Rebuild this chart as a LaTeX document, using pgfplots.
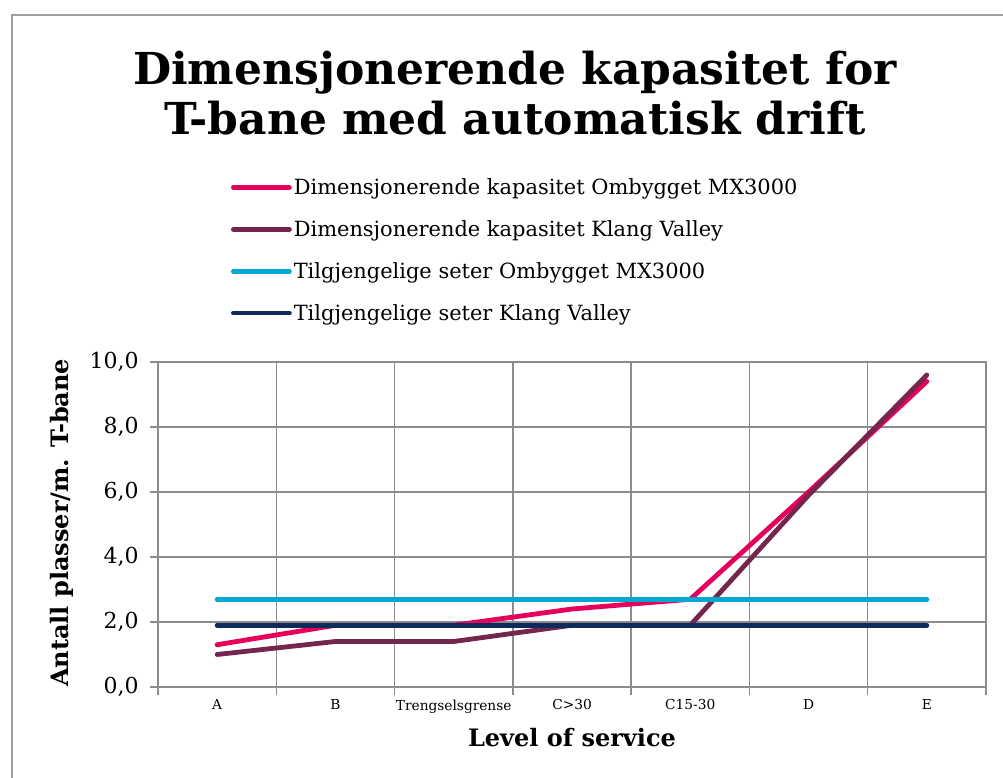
\documentclass[border=0pt]{standalone}
\usepackage{pgfplots}
\pgfplotsset{compat=1.18}
\usepackage{fontspec}
\setmainfont{DejaVu Serif}

\definecolor{cPink}{HTML}{E6005C}
\definecolor{cPlum}{HTML}{74264F}
\definecolor{cCyan}{HTML}{00A8D2}
\definecolor{cNavy}{HTML}{0C2A5C}
\definecolor{gridgray}{HTML}{8C8C8C}

\begin{document}
\begin{tikzpicture}
% 1 unit = 1 px of the 1003x778 reference, origin at its bottom-left corner;
% the axis box's lower-left corner sits at px (158,91)
\begin{scope}[x=0.75pt, y=0.75pt, shift={(-118.5pt,-68.25pt)}]
\useasboundingbox (0,0) rectangle (1003,778);
\draw[gray!75, line width=1.5pt] (12,0) -- (12,763) -- (1003,763);
\node[anchor=base, font=\fontsize{33}{38}\selectfont\bfseries] at (515,693) {Dimensjonerende kapasitet for};
\node[anchor=base, font=\fontsize{33}{38}\selectfont\bfseries] at (515,643) {T-bane med automatisk drift};
\end{scope}

\begin{axis}[
  scale only axis, width=621pt, height=243.75pt,
  xmin=-0.5, xmax=6.5, ymin=0, ymax=10,
  xtick={-0.5,0.5,...,6.5},
  xticklabels={A,B,Trengselsgrense,C>30,C15-30,D,E},
  x tick label as interval,
  ytick={0,2,...,10},
  grid=major, grid style={gridgray, line width=1pt},
  axis line style={gridgray, line width=1pt},
  tick style={gridgray, line width=1pt},
  tick align=outside, major tick length=6pt,
  xtick pos=bottom, ytick pos=left,
  y tick label style={font=\fontsize{16.5}{19}\selectfont, xshift=-5pt,
    /pgf/number format/fixed, /pgf/number format/fixed zerofill,
    /pgf/number format/precision=1, /pgf/number format/use comma,
    /pgf/number format/assume math mode=true},
  x tick label style={font=\fontsize{10.3}{12}\selectfont},
  xlabel={Level of service},
  ylabel={Antall plasser/m. T-bane},
  label style={font=\fontsize{18}{21}\selectfont\bfseries},
  xlabel style={at={(0.5,0)}, anchor=base, yshift=-44.25pt},
  ylabel style={at={(-0.116,0.505)}, anchor=center},
  legend style={at={(0.083,1.58)}, anchor=north west, draw=none, fill=none,
                font=\fontsize{15.7}{18}\selectfont, row sep=15pt,
                nodes={inner sep=1.5pt}},
  legend cell align=left,
  legend image code/.code={\draw[#1] (0pt,0pt) -- (42pt,0pt);},
  every axis plot/.append style={line width=3.6pt, line cap=round, line join=round},
]
\addplot[cPink] coordinates {(0,1.3) (1,1.9) (2,1.9) (3,2.4) (4,2.7) (5,6.0) (6,9.4)};
\addlegendentry{Dimensjonerende kapasitet Ombygget MX3000}
\addplot[cPlum] coordinates {(0,1.0) (1,1.4) (2,1.4) (3,1.9) (4,1.9) (5,5.9) (6,9.6)};
\addlegendentry{Dimensjonerende kapasitet Klang Valley}
\addplot[cCyan] coordinates {(0,2.7) (1,2.7) (2,2.7) (3,2.7) (4,2.7) (5,2.7) (6,2.7)};
\addlegendentry{Tilgjengelige seter Ombygget MX3000}
\addplot[cNavy] coordinates {(0,1.9) (1,1.9) (2,1.9) (3,1.9) (4,1.9) (5,1.9) (6,1.9)};
\addlegendentry{Tilgjengelige seter Klang Valley}
\end{axis}
\end{tikzpicture}
\end{document}
